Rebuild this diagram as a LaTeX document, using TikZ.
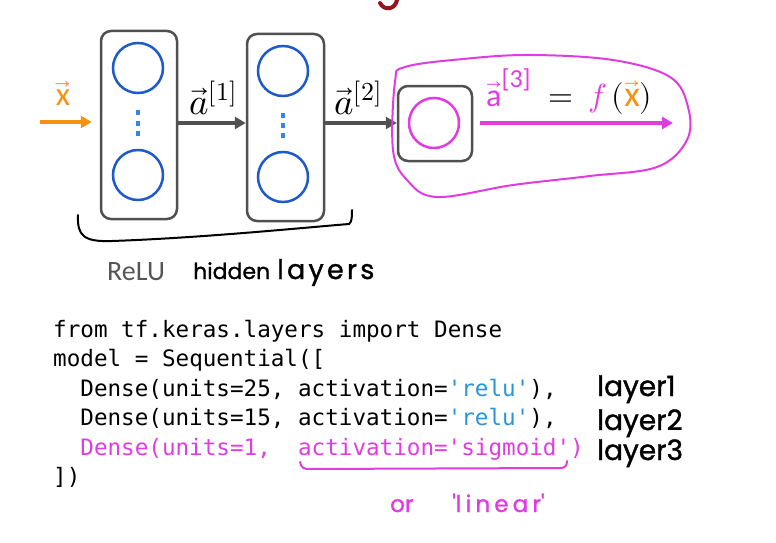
\documentclass[tikz,border=0pt]{standalone}
\usepackage{fontspec}
\usepackage{unicode-math}
\setmathfont{Latin Modern Math}
\usetikzlibrary{arrows.meta}
\newfontfamily\carl{Carlito}
\newfontfamily\codefont{DejaVu Sans Mono}
\newfontfamily\hand{Poppins}[FakeBold=1.2]
\definecolor{boxgray}{RGB}{80,80,80}
\definecolor{nblue}{RGB}{30,90,200}
\definecolor{dotblue}{RGB}{60,130,225}
\definecolor{mag}{RGB}{225,60,225}
\definecolor{orng}{RGB}{245,145,20}
\definecolor{relublue}{RGB}{40,150,215}
\definecolor{titlered}{RGB}{150,20,30}
\definecolor{relugray}{RGB}{85,85,85}
\tikzset{
  layerbox/.style={draw=boxgray, line width=2.5pt, rounded corners=10pt, inner sep=0pt},
  neuron/.style={circle, draw=nblue, line width=2.5pt, minimum size=50pt, inner sep=0pt},
  outneuron/.style={circle, draw=mag, line width=2.5pt, minimum size=50pt, inner sep=0pt},
  vdot/.style={fill=dotblue, minimum width=4pt, minimum height=5pt, inner sep=0pt},
  grayarrow/.style={draw=boxgray, line width=4pt, -{Triangle[length=11pt,width=12pt]}},
  code/.style={anchor=base west, inner sep=0pt, font=\codefont\fontsize{22.6}{27}\selectfont},
  handtxt/.style={anchor=base west, inner sep=0pt, font=\hand\fontsize{28}{30}\selectfont},
  mathlbl/.style={inner sep=0pt, font=\fontsize{37}{40}\selectfont},
}
\begin{document}
\begin{tikzpicture}[x=1pt,y=-1pt]
\useasboundingbox[fill=white] (0,0) rectangle (776,543);

% cut-off title fragment
\draw[titlered, line width=4pt, line cap=round] (380,3) .. controls (384,11) and (395,10) .. (397,0);

% layer boxes
\node[layerbox, minimum width=76pt, minimum height=188pt] (L1) at (139,125) {};
\node[layerbox, minimum width=77pt, minimum height=187pt] (L2) at (285.5,127.5) {};
\node[layerbox, minimum width=74pt, minimum height=75pt] (O) at (435,123.5) {};

% neurons
\node[neuron] (n11) at (138,68) {};
\node[neuron] (n12) at (138,175) {};
\node[vdot] (d11) at (138,112) {};
\node[vdot] (d12) at (138,123) {};
\node[vdot] (d13) at (138,133) {};
\node[neuron] (n21) at (283,71) {};
\node[neuron] (n22) at (283,177) {};
\node[vdot] (d21) at (283,115) {};
\node[vdot] (d22) at (283,125) {};
\node[vdot] (d23) at (283,135) {};
\node[outneuron] (n31) at (434,123) {};

% input
\node[inner sep=0pt, text=orng, font=\carl\fontsize{33}{33}\selectfont] (xin) at (63,93) {$\vec{\mbox{\carl x}}$};
\coordinate (xstart) at (40,122);
\draw[draw=orng, line width=4pt, -{Triangle[length=11pt,width=12pt]}, shorten >=8pt] (xstart) -- (L1.west |- xstart);

% hidden arrows
\draw[grayarrow] (L1.east |- n31) -- (L2.west |- n31);
\draw[grayarrow] (L2.east |- n31) -- (O.west |- n31);
\node[mathlbl] (a1) at (213,98) {$\vec{a}^{[1]}$};
\node[mathlbl] (a2) at (358,98) {$\vec{a}^{[2]}$};

% output arrow
\coordinate (yout) at (673,123);
\draw[draw=mag, line width=4pt, -{Triangle[length=11pt,width=12pt]}, shorten <=7pt] (O.east |- n31) -- (yout);
\node[inner sep=0pt, anchor=base west, font=\carl\fontsize{32}{32}\selectfont] (a3) at (486,106)
  {$\textcolor{mag}{\vec{\mbox{\carl a}}^{\mbox{\carl\fontsize{26}{26}\selectfont[3]}}}\mkern5mu = \mkern3mu\textcolor{mag}{f}\mkern3mu(\textcolor{orng}{\vec{\mbox{\carl\fontsize{36}{36}\selectfont x}}})$};

% magenta loop
\draw[mag, line width=2pt] plot[smooth cycle, tension=0.6] coordinates {
  (405,67) (463,59) (530,55) (613,60) (670,77) (688,107) (687,140) (657,167)
  (590,176) (513,185) (437,197) (407,180) (393,150) (395,82)};

% brace
\draw[black, line width=2pt, line cap=round] (78,215) .. controls (77,236) and (84,242) .. (112,241)
  .. controls (200,238) and (300,228) .. (349,224) .. controls (352,222) and (352,216) .. (352,210);

\node[inner sep=0pt, anchor=base west, text=relugray, font=\carl\fontsize{28}{28}\selectfont] (relu) at (107,280) {ReLU};
\node[inner sep=0pt, anchor=base west, font=\hand\fontsize{22}{22}\selectfont] (hid) at (193,279) {hidden};
\node[inner sep=0pt, anchor=base west, font=\hand\fontsize{27}{27}\selectfont\addfontfeature{LetterSpace=12}] (lay) at (277,279) {layers};

% code
\node[code] (c1) at (53,337) {from tf.keras.layers import Dense};
\node[code] (c2) at (53,366.5) {model = Sequential([};
\node[code] (c3) at (80.2,396) {Dense(units=25, activation=\textcolor{relublue}{\textquotesingle relu\textquotesingle}),};
\node[code] (c4) at (80.2,425.5) {Dense(units=15, activation=\textcolor{relublue}{\textquotesingle relu\textquotesingle}),};
\node[code, text=mag] (c5) at (80.2,455) {Dense(units=1,\ \ activation=\textquotesingle sigmoid\textquotesingle)};
\node[code] (c6) at (53,484.5) {])};

% underline
\draw[mag, line width=2pt, line cap=round] (300,462) .. controls (301,468) and (304,469) .. (310,469)
  -- (560,468) .. controls (565,468) and (567,466) .. (567,461);

% handwritten notes
\node[handtxt] (l1) at (597,396) {layer1};
\node[handtxt] (l2) at (597,430) {layer2};
\node[handtxt] (l3) at (597,460) {layer3};
\node[inner sep=0pt, anchor=base west, text=mag, font=\hand\fontsize{23}{24}\selectfont] (orl) at (390,512) {or};
\node[inner sep=0pt, anchor=base west, text=mag, font=\hand\fontsize{23}{24}\selectfont\addfontfeature{LetterSpace=18}] (lin) at (452,512) {\textquotesingle linear\textquotesingle};
\end{tikzpicture}
\end{document}
